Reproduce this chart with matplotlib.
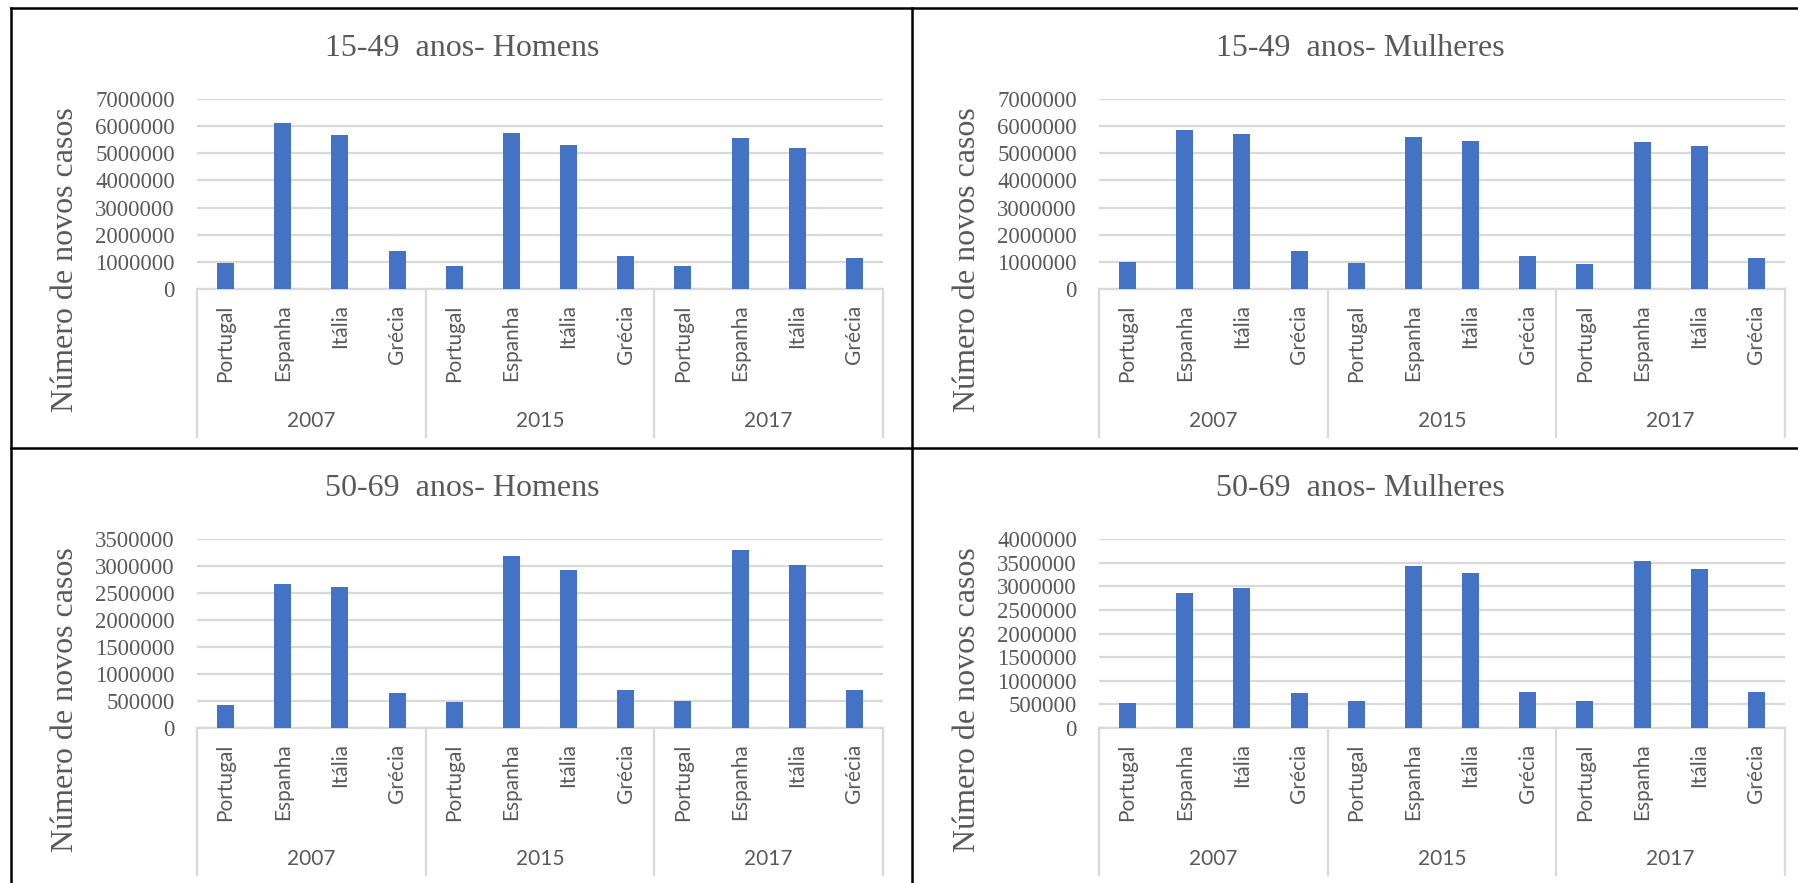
import numpy as np
import matplotlib
matplotlib.use("Agg")
import matplotlib.pyplot as plt
from matplotlib.lines import Line2D
from matplotlib.ticker import MultipleLocator, StrMethodFormatter

# data
years = ["2007", "2015", "2017"]
countries = ["Portugal", "Espanha", "Itália", "Grécia"]

homens_15_49 = [960000, 6130000, 5660000, 1390000,
                860000, 5760000, 5320000, 1210000,
                860000, 5570000, 5180000, 1150000]
mulheres_15_49 = [1010000, 5840000, 5710000, 1390000,
                  960000, 5610000, 5460000, 1210000,
                  910000, 5420000, 5270000, 1150000]
homens_50_69 = [430000, 2660000, 2610000, 650000,
                480000, 3180000, 2920000, 700000,
                505000, 3300000, 3010000, 700000]
mulheres_50_69 = [520000, 2850000, 2960000, 740000,
                  580000, 3420000, 3290000, 770000,
                  580000, 3530000, 3370000, 770000]

titles = ["15-49  anos- Homens", "15-49  anos- Mulheres",
          "50-69  anos- Homens", "50-69  anos- Mulheres"]
series = [homens_15_49, mulheres_15_49, homens_50_69, mulheres_50_69]
ymax = [7000000, 7000000, 3500000, 4000000]
ystep = [1000000, 1000000, 500000, 500000]

W, H = 1798, 883
fig = plt.figure(figsize=(W / 100, H / 100), dpi=100)
fig.patch.set_facecolor("white")

BLUE = "#4472C4"
GRAY = "#595959"
GRID = "#D9D9D9"
SERIF = "Liberation Serif"
SANS = "Lato"

def fx(px):
    return px / W

def fy(py):
    return 1 - py / H

# panel geometry in pixels: (plot left, plot right, top gridline, zero line, title x, title y)
panels = [
    (197, 883, 99, 289, 462, 49),
    (1099, 1785, 99, 289, 1360, 49),
    (197, 883, 539, 728, 462, 488),
    (1099, 1785, 539, 728, 1360, 488),
]

labels = countries * len(years)
x = np.arange(len(labels))

for i, (l, r, t, b, tx, ty) in enumerate(panels):
    ax = fig.add_axes([fx(l), fy(b), (r - l) / W, (b - t) / H])
    ax.bar(x, series[i], width=0.3, color=BLUE, zorder=3)
    ax.set_xlim(-0.5, len(labels) - 0.5)
    ax.set_ylim(0, ymax[i])
    ax.yaxis.set_major_locator(MultipleLocator(ystep[i]))
    ax.yaxis.set_major_formatter(StrMethodFormatter("{x:.0f}"))
    ax.yaxis.grid(True, color=GRID, linewidth=1.6, zorder=0)
    for s in ["top", "right", "left"]:
        ax.spines[s].set_visible(False)
    ax.spines["bottom"].set_color(GRID)
    ax.spines["bottom"].set_linewidth(1.6)
    ax.tick_params(axis="y", length=0, pad=16, labelsize=16.5, labelcolor=GRAY)
    for lab in ax.get_yticklabels():
        lab.set_fontfamily(SERIF)
    ax.set_xticks(x)
    ax.set_xticklabels(labels, rotation=90, fontsize=15, color=GRAY,
                       fontfamily=SANS, va="top")
    ax.tick_params(axis="x", length=0, pad=11)

    # group separators and year labels
    for k in range(len(years) + 1):
        xs = k * len(countries) - 0.5
        ax.plot([xs, xs], [0, -0.78], color=GRID, linewidth=1.6,
                transform=ax.get_xaxis_transform(), clip_on=False)
    for k, yr in enumerate(years):
        xc = k * len(countries) + 1.5
        ax.text(xc, -0.695, yr, transform=ax.get_xaxis_transform(),
                ha="center", va="center", fontsize=15, color=GRAY,
                fontfamily=SANS)

    fig.text(fx(tx), fy(ty), titles[i], ha="center", va="center",
             fontsize=23, color=GRAY, fontfamily=SERIF)
    fig.text(fx(l - 131), fy(t + 161), "Número de novos casos", rotation=90,
             ha="center", va="center", fontsize=23, color=GRAY, fontfamily=SERIF)

# black frame lines between panels
frame = [
    ((11, 1798), (8, 8)),
    ((11, 11), (8, 883)),
    ((912, 912), (8, 883)),
    ((11, 1798), (448, 448)),
]
for xs, ys in frame:
    fig.add_artist(Line2D([fx(v) for v in xs], [fy(v) for v in ys],
                          color="black", linewidth=1.8))

fig.savefig("out.png", dpi=100)
